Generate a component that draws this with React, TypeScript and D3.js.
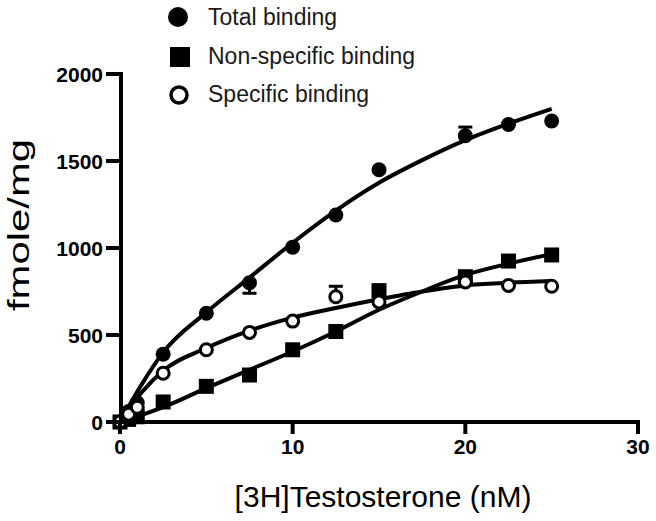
import * as d3 from "d3";
import React from "react";

// measured points (nM, fmole/mg)
const conc = [0, 0.5, 1, 2.5, 5, 7.5, 10, 12.5, 15, 20, 22.5, 25];
const totalBinding = [0, 60, 110, 390, 625, 800, 1005, 1190, 1450, 1645, 1710, 1730];
const nonSpecific = [0, 15, 30, 115, 205, 270, 415, 520, 755, 835, 925, 960];
const specific = [0, 45, 85, 280, 415, 515, 580, 720, 690, 805, 785, 780];

// visible error bar half (positive = above, negative = below)
const totalErr = [0, 0, 0, 0, 0, -60, 0, 0, 0, 50, 0, 0];
const specificErr = [0, 0, 0, 0, 0, 0, 0, 60, 0, 0, 0, 0];

// fitted curves
const fitX = [0, 1.25, 2.5, 5, 7.5, 10, 12.5, 15, 17.5, 20, 22.5, 25];
const totalFit = [0, 215, 400, 630, 830, 1030, 1215, 1375, 1505, 1620, 1715, 1800];
const nsFit = [0, 40, 85, 195, 300, 405, 520, 645, 750, 845, 910, 965];
const specificFit = [0, 170, 295, 425, 525, 600, 655, 705, 750, 785, 800, 810];

const xTicks = [0, 10, 20, 30];
const yTicks = [0, 500, 1000, 1500, 2000];

const legendItems = ["Total binding", "Non-specific binding", "Specific binding"];

const font = "'Liberation Sans', Arial, sans-serif";

export default function App() {
	const x = d3.scaleLinear().domain([0, 30]).range([120, 638]);
	const y = d3.scaleLinear().domain([0, 2000]).range([422, 74]);

	const line = d3
		.line<number>()
		.x((_, i) => x(fitX[i]))
		.y((d) => y(d))
		.curve(d3.curveMonotoneX);

	const r = 7.5;
	const sq = 15;

	const errBars = (vals: number[], errs: number[]) =>
		vals.map((v, i) =>
			errs[i] === 0 ? null : (
				<g key={i}>
					<line x1={x(conc[i])} x2={x(conc[i])} y1={y(v)} y2={y(v + errs[i])} stroke="#000" strokeWidth={3} />
					<line x1={x(conc[i]) - 7} x2={x(conc[i]) + 7} y1={y(v + errs[i])} y2={y(v + errs[i])} stroke="#000" strokeWidth={3} />
				</g>
			),
		);

	return (
		<svg width={656} height={521} style={{ position: "absolute", left: 0, top: 0, background: "#fff" }} fontFamily={font}>
			{/* legend */}
			<g>
				<circle cx={178} cy={17} r={10} fill="#000" />
				<rect x={170} y={47} width={20} height={20} fill="#000" />
				<circle cx={179} cy={95} r={8} fill="#fff" stroke="#000" strokeWidth={3.5} />
				{legendItems.map((t, i) => (
					<text key={t} x={208} y={25 + i * 38.5} fontSize={23} fill="#1a1a1a">
						{t}
					</text>
				))}
			</g>

			{/* fits */}
			<path d={line(totalFit) || ""} fill="none" stroke="#000" strokeWidth={4} />
			<path d={line(nsFit) || ""} fill="none" stroke="#000" strokeWidth={4} />
			<path d={line(specificFit) || ""} fill="none" stroke="#000" strokeWidth={4} />

			{errBars(totalBinding, totalErr)}
			{errBars(specific, specificErr)}

			{totalBinding.map((v, i) => (
				<circle key={"t" + i} cx={x(conc[i])} cy={y(v)} r={r} fill="#000" />
			))}
			{nonSpecific.map((v, i) => (
				<rect key={"n" + i} x={x(conc[i]) - sq / 2} y={y(v) - sq / 2} width={sq} height={sq} fill="#000" />
			))}
			{specific.map((v, i) => (
				<circle key={"s" + i} cx={x(conc[i])} cy={y(v)} r={r - 1.5} fill="#fff" stroke="#000" strokeWidth={3} />
			))}

			{/* axes */}
			<line x1={121} x2={121} y1={y(2000) - 2} y2={y(0) + 2} stroke="#000" strokeWidth={4} />
			<line x1={119} x2={x(30) + 2} y1={422} y2={422} stroke="#000" strokeWidth={4} />
			{yTicks.map((t) => (
				<g key={t} transform={`translate(0,${y(t)})`}>
					<line x1={106} x2={121} stroke="#000" strokeWidth={4} />
					<text x={103} dy="0.36em" textAnchor="end" fontSize={21} fontWeight="bold">
						{t}
					</text>
				</g>
			))}
			{xTicks.map((t) => (
				<g key={t} transform={`translate(${x(t)},0)`}>
					<line y1={422} y2={434} stroke="#000" strokeWidth={4} />
					<text y={454} textAnchor="middle" fontSize={21} fontWeight="bold">
						{t}
					</text>
				</g>
			))}

			<text x={383} y={507} textAnchor="middle" fontSize={30}>
				[3H]Testosterone (nM)
			</text>
			<text
				transform="translate(29,225) rotate(-90)"
				textAnchor="middle"
				fontSize={30}
				textLength={172}
				lengthAdjust="spacingAndGlyphs">
				fmole/mg
			</text>
		</svg>
	);
}
